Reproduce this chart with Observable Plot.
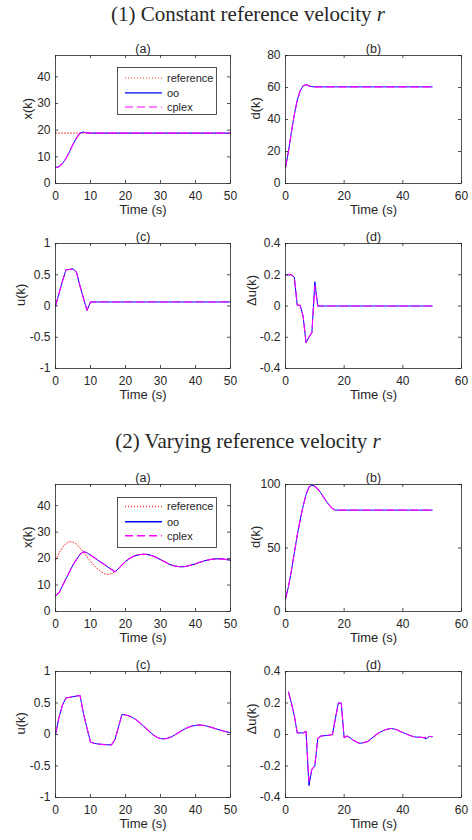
<!DOCTYPE html>
<html><head><meta charset="utf-8">
<script src="https://cdn.jsdelivr.net/npm/d3@7"></script>
<script src="https://cdn.jsdelivr.net/npm/@observablehq/plot@0.6"></script>
<style>
body{margin:0;background:#fff;}
#root{position:relative;width:472px;height:840px;overflow:hidden;background:#fff;}
.main{position:absolute;left:12px;width:472px;text-align:center;font-family:"Liberation Serif","Times New Roman",serif;font-size:21px;line-height:21px;color:#262626;white-space:nowrap;}
</style></head><body><div id="root"></div>
<script>
// ---------------- data ----------------
const time = [0,1,2,3,4,5,6,7,8,9,10,11,12,13,14,15,16,17,18,19,20,21,22,23,24,25,26,27,28,29,30,31,32,33,34,35,36,37,38,39,40,41,42,43,44,45,46,47,48,49,50];
const timeFrom1 = [1,2,3,4,5,6,7,8,9,10,11,12,13,14,15,16,17,18,19,20,21,22,23,24,25,26,27,28,29,30,31,32,33,34,35,36,37,38,39,40,41,42,43,44,45,46,47,48,49,50];

const mainTitles = ["(1) Constant reference velocity ", "(2) Varying reference velocity "];
const panelTitles = ["(a)", "(b)", "(c)", "(d)"];
const yLabels = ["x(k)", "d(k)", "u(k)", "\u0394u(k)"];
const xLabel = "Time (s)";
const legendNames = ["reference", "oo", "cplex"];

const xTicks50 = [0,10,20,30,40,50];
const xTicks60 = [0,20,40,60];
const yTicksX = [0,10,20,30,40];
const yTicksD1 = [0,20,40,60,80];
const yTicksD2 = [0,50,100];
const yTicksU = [-1,-0.5,0,0.5,1];
const yTicksDU = [-0.4,-0.2,0,0.2,0.4];

// Case 1: constant reference
const x1Ref = [18.9,18.9,18.9,18.9,18.9,18.9,18.9,18.9,18.9,18.9,
 18.9,18.9,18.9,18.9,18.9,18.9,18.9,18.9,18.9,18.9,
 18.9,18.9,18.9,18.9,18.9,18.9,18.9,18.9,18.9,18.9,
 18.9,18.9,18.9,18.9,18.9,18.9,18.9,18.9,18.9,18.9,
 18.9,18.9,18.9,18.9,18.9,18.9,18.9,18.9,18.9,18.9,
 18.9];
const x1OO = [6.0,6.3,7.5,9.4,11.9,14.7,17.1,18.9,19.3,18.95,
 18.9,18.9,18.9,18.9,18.9,18.9,18.9,18.9,18.9,18.9,
 18.9,18.9,18.9,18.9,18.9,18.9,18.9,18.9,18.9,18.9,
 18.9,18.9,18.9,18.9,18.9,18.9,18.9,18.9,18.9,18.9,
 18.9,18.9,18.9,18.9,18.9,18.9,18.9,18.9,18.9,18.9,
 18.9];
const x1Cplex = x1OO.slice();
const d1OO = [10,20,32,43,52,58,61,61.8,61,60.5,
 60.4,60.4,60.4,60.4,60.4,60.4,60.4,60.4,60.4,60.4,
 60.4,60.4,60.4,60.4,60.4,60.4,60.4,60.4,60.4,60.4,
 60.4,60.4,60.4,60.4,60.4,60.4,60.4,60.4,60.4,60.4,
 60.4,60.4,60.4,60.4,60.4,60.4,60.4,60.4,60.4,60.4,
 60.4];
const d1Cplex = d1OO.slice();
const u1OO = [0,0.2,0.4,0.58,0.585,0.595,0.54,0.32,0.12,-0.07,
 0.065,0.065,0.065,0.065,0.065,0.065,0.065,0.065,0.065,0.065,
 0.065,0.065,0.065,0.065,0.065,0.065,0.065,0.065,0.065,0.065,
 0.065,0.065,0.065,0.065,0.065,0.065,0.065,0.065,0.065,0.065,
 0.065,0.065,0.065,0.065,0.065,0.065,0.065,0.065,0.065,0.065,
 0.065];
const u1Cplex = u1OO.slice();
const du1OO = [0.2,0.2,0.2,0.185,0.005,0.005,-0.065,-0.235,-0.2,-0.17,
 0.155,0,0,0,0,0,0,0,0,0,
 0,0,0,0,0,0,0,0,0,0,
 0,0,0,0,0,0,0,0,0,0,
 0,0,0,0,0,0,0,0,0,0,
 0];
const du1Cplex = [0.2,0.2,0.2,0.185,0.005,0.005,-0.065,-0.235,-0.2,-0.17,
 0.13,0,0,0,0,0,0,0,0,0,
 0,0,0,0,0,0,0,0,0,0,
 0,0,0,0,0,0,0,0,0,0,
 0,0,0,0,0,0,0,0,0,0,
 0];

// Case 2: varying reference
const x2Ref = [19.5,22,24.2,25.7,26.4,26.3,25.5,24,22.4,20.7,
 19,17.5,16.1,15,14.3,14,14.3,15.0,16.2,17.6,
 18.9,19.9,20.7,21.2,21.5,21.6,21.6,21.3,20.9,20.3,
 19.6,18.9,18.2,17.6,17.2,17.0,16.9,17.0,17.3,17.6,
 18.0,18.5,18.9,19.3,19.6,19.8,19.9,19.9,19.8,19.6,
 19.4];
const x2OO = [5.9,7.1,9.7,12.4,15.0,17.6,19.7,21.6,22.6,22.2,
 21.3,20.4,19.5,18.6,17.7,16.8,15.9,15.0,16.2,17.6,
 18.9,19.9,20.7,21.2,21.5,21.6,21.6,21.3,20.9,20.3,
 19.6,18.9,18.2,17.6,17.2,17.0,16.9,17.0,17.3,17.6,
 18.0,18.5,18.9,19.3,19.6,19.8,19.9,19.9,19.8,19.6,
 19.4];
const x2Cplex = x2OO.slice();
const d2OO = [10,19.5,32,46,60,72,83,92,98,99.5,
 98.5,96.5,93.5,90,86.5,83.5,81,79.8,79.8,79.8,
 79.8,79.8,79.8,79.8,79.8,79.8,79.8,79.8,79.8,79.8,
 79.8,79.8,79.8,79.8,79.8,79.8,79.8,79.8,79.8,79.8,
 79.8,79.8,79.8,79.8,79.8,79.8,79.8,79.8,79.8,79.8,
 79.8];
const d2Cplex = d2OO.slice();
const u2OO = [0,0.27,0.47,0.58,0.59,0.6,0.61,0.62,0.33,0.1,
 -0.12,-0.14,-0.15,-0.155,-0.16,-0.163,-0.165,-0.08,0.12,0.32,
 0.31,0.295,0.27,0.235,0.19,0.14,0.09,0.04,-0.01,-0.045,
 -0.065,-0.07,-0.06,-0.04,-0.01,0.025,0.06,0.09,0.115,0.135,
 0.145,0.15,0.147,0.137,0.122,0.105,0.088,0.07,0.055,0.04,
 0.03];
const u2Cplex = u2OO.slice();
const du2OO = [0.27,0.2,0.12,0.01,0.01,0.01,0.02,-0.325,-0.22,-0.2,
 -0.025,-0.01,-0.008,-0.006,-0.004,0.0,0.1,0.2,0.2,-0.02,
 -0.01,-0.02,-0.035,-0.045,-0.055,-0.055,-0.05,-0.045,-0.03,-0.015,
 0.0,0.012,0.022,0.03,0.035,0.038,0.035,0.03,0.02,0.012,
 0.005,-0.003,-0.01,-0.015,-0.017,-0.017,-0.02,-0.027,-0.012,-0.014];
const du2Cplex = [0.27,0.2,0.12,0.01,0.01,0.01,0.02,-0.295,-0.22,-0.2,
 -0.025,-0.01,-0.008,-0.006,-0.004,0.0,0.1,0.2,0.2,-0.02,
 -0.01,-0.02,-0.035,-0.045,-0.055,-0.055,-0.05,-0.045,-0.03,-0.015,
 0.0,0.012,0.022,0.03,0.035,0.038,0.035,0.03,0.02,0.012,
 0.005,-0.003,-0.01,-0.015,-0.017,-0.017,-0.02,-0.018,-0.012,-0.014];

// ---------------- styles ----------------
const FONT = '"Liberation Sans", Arial, Helvetica, sans-serif';
const INK = "#262626";
const C_REF = "#ff3030", C_OO = "#0000ff", C_CP = "#ff00ff";
const DASH_CP = "8,4", DASH_REF = "1,2";
const root = document.getElementById("root");

function seriesOO(t, v){ return {t, v, stroke: C_OO, w: 1, dash: null}; }
function seriesCP(t, v){ return {t, v, stroke: C_CP, w: 1.1, dash: DASH_CP}; }
function seriesRef(t, v){ return {t, v, stroke: C_REF, w: 1, dash: DASH_REF}; }

function panel(cfg) {
  const {col, top, bottom, xDomain, xTicks, yDomain, yTicks, title, ylabel, ylabOff, lines} = cfg;
  const W = 236, mt = 24, mb = 44;
  const ml = col === 0 ? 55 : 49, mr = col === 0 ? 6 : 11;
  const ph = bottom - top, pw = W - ml - mr;
  const marks = [];
  for (const s of lines) {
    const data = s.t.map((tt, i) => ({t: tt, v: s.v[i]}));
    const o = {x: "t", y: "v", stroke: s.stroke, strokeWidth: s.w};
    if (s.dash) o.strokeDasharray = s.dash;
    marks.push(Plot.line(data, o));
  }
  marks.push(Plot.frame({stroke: INK, strokeWidth: 0.8}));
  const tk = 3;
  marks.push(Plot.tickX(xTicks, {x: d => d, insetTop: ph - tk, stroke: INK, strokeWidth: 0.8}));
  marks.push(Plot.tickX(xTicks, {x: d => d, insetBottom: ph - tk, stroke: INK, strokeWidth: 0.8}));
  marks.push(Plot.tickY(yTicks, {y: d => d, insetRight: pw - tk, stroke: INK, strokeWidth: 0.8}));
  marks.push(Plot.tickY(yTicks, {y: d => d, insetLeft: pw - tk, stroke: INK, strokeWidth: 0.8}));
  marks.push(Plot.axisX({ticks: xTicks, tickSize: 0, tickPadding: 8, tickFormat: d => String(d), label: null, fontSize: 12}));
  marks.push(Plot.axisY({ticks: yTicks, tickSize: 0, tickPadding: 5, tickFormat: d => String(d), label: null, fontSize: 12}));
  marks.push(Plot.text([title], {text: d => d, frameAnchor: "top", dy: -11, fontSize: 12.5, fill: INK}));
  marks.push(Plot.text([xLabel], {text: d => d, frameAnchor: "bottom", dy: 30, fontSize: 13, fill: INK}));
  marks.push(Plot.text([ylabel], {text: d => d, frameAnchor: "left", dx: -ylabOff, rotate: -90, fontSize: 13, fill: INK}));
  const svg = Plot.plot({
    width: W, height: ph + mt + mb,
    marginLeft: ml, marginRight: mr, marginTop: mt, marginBottom: mb,
    x: {domain: xDomain}, y: {domain: yDomain},
    style: {fontFamily: FONT, fontSize: "12px", color: INK, background: "transparent", overflow: "visible"},
    marks
  });
  svg.style.position = "absolute";
  svg.style.left = (col === 0 ? 0 : 236) + "px";
  svg.style.top = (top - mt) + "px";
  root.appendChild(svg);
}

function legend(left, top, h, ys, lw) {
  const w = 100;
  const sty = [[C_REF, DASH_REF], [C_OO, null], [C_CP, DASH_CP]];
  let s = `<svg xmlns="http://www.w3.org/2000/svg" width="${w}" height="${h}" style="position:absolute;left:${left}px;top:${top}px;overflow:visible">`;
  s += `<rect x="0.5" y="0.5" width="${w - 1}" height="${h - 1}" fill="white" stroke="${INK}" stroke-width="0.8"/>`;
  legendNames.forEach((name, i) => {
    const y = ys[i];
    const [c, dash] = sty[i];
    s += `<line x1="8" x2="45" y1="${y}" y2="${y}" stroke="${c}" stroke-width="${lw}"${dash ? ` stroke-dasharray="${dash}"` : ""}/>`;
    s += `<text x="50" y="${y}" dy="0.35em" font-size="11" fill="${INK}" style='font-family:${FONT}'>${name}</text>`;
  });
  s += `</svg>`;
  const div = document.createElement("div");
  div.innerHTML = s;
  root.appendChild(div.firstChild);
}

function mainTitle(text, centerY) {
  const d = document.createElement("div");
  d.className = "main";
  d.style.top = (centerY - 11) + "px";
  d.innerHTML = text + "<i>r</i>";
  root.appendChild(d);
}

// ---------------- build ----------------
mainTitle(mainTitles[0], 15);
mainTitle(mainTitles[1], 442);

const rows = [
  {top: 55, bottom: 183},
  {top: 243, bottom: 368},
  {top: 484, bottom: 611},
  {top: 671, bottom: 797}
];

// Case 1
panel({col: 0, ...rows[0], xDomain: [0,50], xTicks: xTicks50, yDomain: [0,48], yTicks: yTicksX,
  title: panelTitles[0], ylabel: yLabels[0], ylabOff: 28,
  lines: [seriesRef(time, x1Ref), seriesOO(time, x1OO), seriesCP(time, x1Cplex)]});
panel({col: 1, ...rows[0], xDomain: [0,60], xTicks: xTicks60, yDomain: [0,80], yTicks: yTicksD1,
  title: panelTitles[1], ylabel: yLabels[1], ylabOff: 30,
  lines: [seriesOO(time, d1OO), seriesCP(time, d1Cplex)]});
panel({col: 0, ...rows[1], xDomain: [0,50], xTicks: xTicks50, yDomain: [-1,1], yTicks: yTicksU,
  title: panelTitles[2], ylabel: yLabels[2], ylabOff: 35,
  lines: [seriesOO(time, u1OO), seriesCP(time, u1Cplex)]});
panel({col: 1, ...rows[1], xDomain: [0,60], xTicks: xTicks60, yDomain: [-0.4,0.4], yTicks: yTicksDU,
  title: panelTitles[3], ylabel: yLabels[3], ylabOff: 34,
  lines: [seriesOO(time, du1OO), seriesCP(time, du1Cplex)]});
legend(117, 67, 48, [11, 25.8, 40], 1.2);

// Case 2
panel({col: 0, ...rows[2], xDomain: [0,50], xTicks: xTicks50, yDomain: [0,48], yTicks: yTicksX,
  title: panelTitles[0], ylabel: yLabels[0], ylabOff: 28,
  lines: [seriesRef(time, x2Ref), seriesOO(time, x2OO), seriesCP(time, x2Cplex)]});
panel({col: 1, ...rows[2], xDomain: [0,60], xTicks: xTicks60, yDomain: [0,100], yTicks: yTicksD2,
  title: panelTitles[1], ylabel: yLabels[1], ylabOff: 30,
  lines: [seriesOO(time, d2OO), seriesCP(time, d2Cplex)]});
panel({col: 0, ...rows[3], xDomain: [0,50], xTicks: xTicks50, yDomain: [-1,1], yTicks: yTicksU,
  title: panelTitles[2], ylabel: yLabels[2], ylabOff: 35,
  lines: [seriesOO(time, u2OO), seriesCP(time, u2Cplex)]});
panel({col: 1, ...rows[3], xDomain: [0,60], xTicks: xTicks60, yDomain: [-0.4,0.4], yTicks: yTicksDU,
  title: panelTitles[3], ylabel: yLabels[3], ylabOff: 34,
  lines: [seriesOO(timeFrom1, du2OO), seriesCP(timeFrom1, du2Cplex)]});
legend(117, 497, 51, [9.5, 24.7, 38.7], 1.6);
</script>
</body></html>
